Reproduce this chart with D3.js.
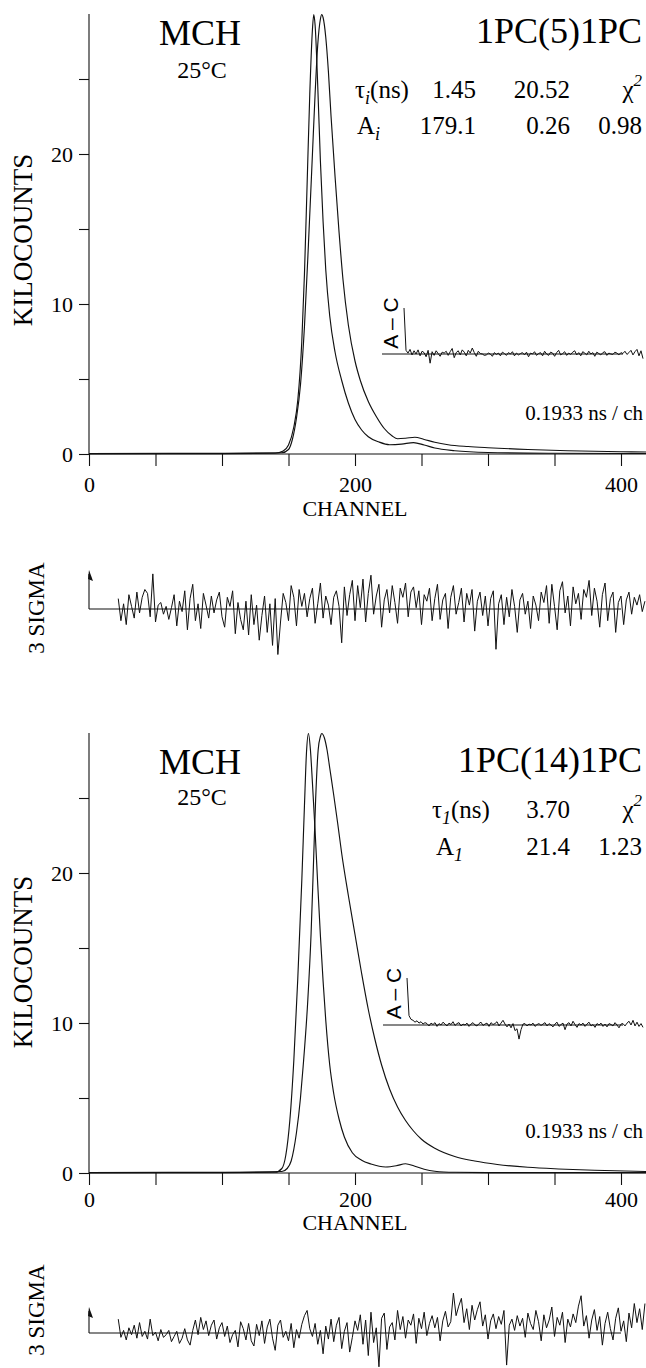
<!DOCTYPE html>
<html><head><meta charset="utf-8">
<script src="https://cdn.jsdelivr.net/npm/d3@7/dist/d3.min.js"></script>
<style>body{margin:0;background:#fff}svg{display:block}text{font-family:"Liberation Serif","Times New Roman",serif;fill:#000}text.sans{font-family:"Liberation Sans",Arial,sans-serif}</style>
</head><body>
<script>
// ---------- data ----------
const xTicks = [0,50,100,150,200,250,300,350,400];
const xTickLabels = [0,200,400];
const yTicks = [0,5,10,15,20,25];
const yTickLabels = [0,10,20];

// panel 1 : 1PC(5)1PC  (channel, kilocounts)
const lamp5Ch = [0,100,140,146,150,154,157,160,162,164,166,168,169,170,172,174,176,178,181,185,190,195,200,205,210,218,226,235,244,252,260,275,300,350,419];
const lamp5Kc = [0.02,0.03,0.05,0.2,0.6,1.8,3.6,7.5,12,18,24,28.3,29.3,28.6,24.5,19.5,15.5,12.3,9.2,6.8,4.9,3.4,2.3,1.6,1.15,0.8,0.62,0.66,0.76,0.6,0.4,0.22,0.1,0.05,0.03];
const dec5Ch = [0,100,145,150,153,156,159,162,165,168,170,172,174,175,176,178,180,182,185,188,191,195,200,204,210,216,222,228,232,238,245,252,260,270,285,300,330,360,400,419];
const dec5Kc = [0.03,0.05,0.08,0.3,1.0,2.4,4.6,8.5,14,20,24,27.3,29.0,29.3,29.1,27.8,25.5,22.5,18.5,14.8,11.6,8.6,6.2,4.9,3.5,2.5,1.7,1.2,1.02,1.05,1.12,0.97,0.78,0.62,0.5,0.42,0.3,0.22,0.15,0.13];

// panel 2 : 1PC(14)1PC
const lamp14Ch = [0,100,140,145,148,151,154,157,160,162,163.5,165,166.5,168,170,172,174,176,178,181,184,188,192,198,205,212,223,231,238,245,252,260,275,300,419];
const lamp14Kc = [0.02,0.03,0.05,0.3,1.2,3.5,7.5,13,19.5,24.5,28,29.3,28.2,26,22.8,19.2,15.8,12.8,10.2,7.2,5.3,3.6,2.4,1.35,0.85,0.6,0.4,0.48,0.62,0.45,0.25,0.12,0.05,0.03,0.02];
const dec14Ch = [0,100,145,149,152,156,159,161,164.5,167,168.7,170.4,172.3,174,175,177,179,181,184,187,190,195,200,205,210,215,220,226,232,238,244,250,260,275,290,307,330,353,380,419];
const dec14Kc = [0.03,0.05,0.1,0.3,0.8,2.7,5.0,7.1,11.5,16,20.4,24.9,28.2,29.1,29.3,29.0,28.2,27.0,25.2,23.3,21.3,18.5,15.9,13.3,10.9,8.9,7.2,5.6,4.4,3.5,2.8,2.25,1.65,1.1,0.8,0.57,0.38,0.27,0.18,0.1];

// weighted residuals (sigma units), channels 22..418 step 2
const resStartCh = 22, resStepCh = 2;
const res5 = [0.8,-0.9,0.4,-1.2,1.1,0.2,-0.7,1.3,-0.3,0.9,
 1.5,1.2,-0.6,2.7,-1.0,0.3,0.5,-0.4,0.2,-0.8,
 0.1,1.1,-1.3,0.6,-0.2,1.4,-1.6,0.8,1.9,-0.9,
 0.4,-1.5,1.2,0.3,-0.7,1.0,-0.3,0.7,1.3,-0.6,
 -1.4,0.9,0.2,1.4,-1.9,0.5,-0.8,-1.6,0.6,-2.0,
 1.1,-1.2,0.3,-2.4,-0.5,1.0,-1.8,0.4,-2.8,0.8,
 -3.5,-1.0,1.2,0.5,-0.9,1.8,0.9,-1.3,1.5,0.2,
 1.2,-0.6,0.8,1.6,-1.1,0.4,2.0,-0.7,1.0,0.3,
 -1.2,0.9,1.4,0.2,-2.6,1.7,-0.5,1.1,2.2,-0.9,
 1.8,0.1,2.3,-1.0,1.2,2.6,-0.4,1.0,1.9,-1.4,
 0.7,1.5,-0.3,1.8,0.5,-1.1,1.6,0.9,2.0,-0.6,
 1.3,1.7,0.1,1.4,-1.2,1.1,0.6,1.6,-0.9,0.8,
 1.9,-0.8,0.7,1.2,-1.5,0.9,1.8,-0.4,0.5,1.6,
 -1.0,1.2,0.3,1.5,-1.7,0.6,1.3,-0.5,1.0,-1.3,
 0.8,1.4,-3.1,0.4,1.1,-1.2,0.9,-0.6,1.5,0.2,
 -1.8,0.7,1.2,-0.4,0.6,-1.5,1.0,0.3,-0.9,1.3,
 0.5,1.8,-1.1,1.9,0.2,-1.6,1.4,2.1,-0.3,1.0,
 -1.3,1.7,0.4,1.2,-0.8,1.5,0.9,2.2,-0.5,1.6,
 0.6,-1.4,1.1,2.0,-0.9,0.8,1.3,-1.8,0.5,1.0,
 -1.2,0.7,1.3,-0.4,0.9,0.3,1.1,-0.2,0.6];
const res14 = [1.6,-0.5,0.3,-0.8,0.6,-0.2,0.9,-0.6,1.2,-0.4,
 0.2,-0.7,1.6,-0.3,0.1,-0.9,0.4,-0.5,-0.2,0.3,
 -1.0,-0.4,0.2,-1.2,-0.6,0.5,-0.8,-1.4,0.3,1.5,
 -0.2,1.8,0.4,1.4,-0.3,0.9,1.5,-0.7,0.6,1.2,
 -0.4,0.8,-1.1,-0.2,0.3,-1.6,1.3,0.5,-0.8,1.1,
 -0.9,-1.5,1.0,-0.3,1.4,-1.2,0.7,1.6,-0.6,-2.0,
 0.9,1.5,-0.5,0.2,-0.9,1.1,-1.7,0.4,-0.6,1.0,
 2.0,2.6,0.5,-0.4,1.1,-1.3,0.3,-2.4,0.8,-0.7,
 1.6,-1.0,0.9,1.8,-1.8,0.2,1.2,-2.2,-0.5,1.4,
 0.3,2.1,-1.3,1.5,-2.6,2.4,-1.1,0.6,-3.9,1.7,
 2.3,-1.9,0.7,1.2,-0.8,2.6,0.4,1.9,-0.6,1.5,
 0.9,2.2,-1.2,1.7,0.5,2.4,-0.3,1.1,2.0,0.6,
 1.8,-0.9,1.4,2.5,0.7,1.3,4.6,2.0,3.1,4.0,
 1.2,2.8,0.4,3.2,1.5,2.7,3.6,0.8,2.1,-0.7,
 1.4,2.2,0.5,1.9,1.0,2.6,-3.7,0.9,1.6,0.3,
 2.0,0.8,1.7,-0.5,2.3,1.1,0.4,2.6,1.3,-0.9,
 2.1,0.6,1.5,3.0,-0.4,1.8,0.9,2.4,-1.1,1.6,
 0.7,2.2,1.2,3.1,4.3,0.8,2.0,-0.6,1.5,2.7,
 0.3,1.9,-1.4,1.1,2.4,0.5,-0.8,1.7,2.9,0.2,
 1.4,-1.0,2.3,0.6,3.4,1.2,2.8,0.4,3.4];

// autocorrelation of residuals (A - C), lag index
const ac5 = [1.0,0.08,0.02,0.1,-0.02,0.07,0.0,0.09,-0.04,0.06,
 0.03,-0.06,0.08,-0.2,0.05,-0.03,0.07,0.01,-0.05,0.04,
 0.02,0.06,-0.03,0.05,0.12,-0.08,0.03,0.07,-0.02,0.09,
 0.04,-0.04,0.08,0.02,0.13,0.03,-0.05,0.06,0.01,0.0,
 -0.03,-0.02,0.02,0.0,-0.05,0.03,-0.01,0.02,-0.04,0.04,
 0.01,-0.03,0.03,0.0,0.05,-0.04,0.02,-0.02,0.01,0.03,
 -0.02,0.04,-0.06,0.02,0.0,0.05,-0.03,0.01,0.03,-0.04,
 0.06,0.0,-0.03,0.04,0.02,-0.05,0.03,0.08,-0.02,0.01,
 0.05,-0.03,0.02,-0.01,0.04,0.07,-0.02,0.03,-0.04,0.05,
 0.02,-0.02,0.06,0.0,0.03,-0.05,0.04,0.01,-0.02,0.03,
 0.05,-0.03,0.02,0.0,-0.01,0.04,0.02,-0.02,0.03,0.01,
 0.06,-0.01,0.03,0.08,-0.02,0.05,0.1,-0.04,0.07,-0.1];
const ac14 = [1.0,0.2,0.12,0.1,0.06,0.09,0.04,0.07,0.02,0.05,
 0.03,-0.02,0.04,0.01,0.05,-0.03,0.03,0.0,0.06,0.02,
 -0.02,0.04,0.01,0.07,-0.01,0.03,0.05,-0.02,0.02,0.0,
 0.04,-0.03,0.02,0.05,0.0,-0.02,0.03,0.06,-0.01,0.02,
 0.04,-0.03,0.05,0.01,0.03,0.07,-0.02,0.04,0.1,0.02,
 -0.04,0.02,-0.06,0.03,-0.12,-0.08,-0.3,-0.1,0.02,0.03,
 -0.02,0.02,0.0,0.04,-0.03,0.01,0.03,-0.01,0.02,0.05,
 -0.02,0.03,0.0,-0.04,0.02,0.06,-0.03,0.01,0.04,-0.1,
 0.02,0.05,-0.02,0.08,0.01,-0.05,0.03,0.0,0.04,-0.03,
 0.02,0.06,-0.02,0.01,-0.05,0.03,0.0,0.04,-0.03,0.02,
 -0.04,0.03,0.01,-0.02,0.05,0.0,-0.06,0.02,0.03,-0.02,
 0.04,0.08,0.0,0.1,-0.02,0.06,-0.03,0.03,-0.05];

const panels = [
  {title:"1PC(5)1PC", solvent:"MCH", temp:"25°C",
   lampCh:lamp5Ch, lampKc:lamp5Kc, decCh:dec5Ch, decKc:dec5Kc, res:res5, ac:ac5,
   tauSub:"i", tauVals:["1.45","20.52"], ampVals:["179.1","0.26"], chi:"0.98",
   y0:454, yTop:14, sigBase:609, sigTop:570, acBase:354, acTop:308, acX0:404, acLineX0:382,
   titleY:43, tauY:98, ampY:134, tempY:78, nsY:420, tickLabY:492, chanY:516, kiloY:240, sigLabY:608,
   tauX:355, ampX:357},
  {title:"1PC(14)1PC", solvent:"MCH", temp:"25°C",
   lampCh:lamp14Ch, lampKc:lamp14Kc, decCh:dec14Ch, decKc:dec14Kc, res:res14, ac:ac14,
   tauSub:"1", tauVals:["3.70"], ampVals:["21.4"], chi:"1.23",
   y0:1173, yTop:733, sigBase:1333, sigTop:1307, acBase:1025, acTop:978, acX0:407, acLineX0:383,
   titleY:772, tauY:818, ampY:855, tempY:805, nsY:1138, tickLabY:1207, chanY:1230, kiloY:962, sigLabY:1310,
   tauX:432, ampX:436}
];

// ---------- drawing ----------
const W = 646, H = 1368;
const svg = d3.select("body").append("svg").attr("width", W).attr("height", H);
const x = d3.scaleLinear().domain([0,400]).range([89,621]);
const chMax = 419;
const ink = "#111";

panels.forEach(p => {
  const g = svg.append("g");
  const y = d3.scaleLinear().domain([0,25]).range([p.y0, p.y0 - 25*15]);
  const yMax = y.invert(p.yTop);

  // axes lines
  g.append("line").attr("x1", x(0)).attr("x2", x(chMax)).attr("y1", y(0)).attr("y2", y(0)).attr("stroke", ink).attr("stroke-width",1.1);
  g.append("line").attr("x1", x(0)).attr("x2", x(0)).attr("y1", y(0)).attr("y2", y(yMax)).attr("stroke", ink).attr("stroke-width",1.1);

  const xa = d3.axisBottom(x).tickValues(xTicks).tickSize(12).tickPadding(10)
    .tickFormat(d => xTickLabels.includes(d) ? d : "");
  const xg = g.append("g").attr("transform", `translate(0,${y(0)})`).call(xa);
  xg.select(".domain").remove();
  xg.selectAll("line").attr("stroke", ink).attr("stroke-width",1.1);
  xg.selectAll("text").attr("font-size", 22).attr("fill","#000")
    .attr("dy", null).attr("y", p.tickLabY - y(0));

  const ya = d3.axisLeft(y).tickValues(yTicks).tickSize(10).tickPadding(6)
    .tickFormat(d => yTickLabels.includes(d) ? d : "");
  const yg = g.append("g").attr("transform", `translate(${x(0)},0)`).call(ya);
  yg.select(".domain").remove();
  yg.selectAll("line").attr("stroke", ink).attr("stroke-width",1.1);
  yg.selectAll("text").attr("font-size", 22).attr("fill","#000");

  // curves
  const line = d3.line().x(d => x(d[0])).y(d => y(d[1])).curve(d3.curveMonotoneX);
  [[p.lampCh,p.lampKc],[p.decCh,p.decKc]].forEach(([c,v]) => {
    g.append("path").datum(c.map((ch,i)=>[ch,v[i]])).attr("d", line)
      .attr("fill","none").attr("stroke", ink).attr("stroke-width",1.15);
  });

  // axis labels
  g.append("text").attr("x", x(200)).attr("y", p.chanY).attr("text-anchor","middle").attr("font-size",22).text("CHANNEL");
  g.append("text").attr("transform", `translate(32,${p.kiloY}) rotate(-90)`).attr("text-anchor","middle").attr("font-size",27).text("KILOCOUNTS");

  // annotations
  g.append("text").attr("x", 200).attr("y", p.titleY + 2).attr("text-anchor","middle").attr("font-size",36).text(p.solvent);
  g.append("text").attr("x", 202).attr("y", p.tempY).attr("text-anchor","middle").attr("font-size",24).text(p.temp);
  g.append("text").attr("x", 642).attr("y", p.titleY).attr("text-anchor","end").attr("font-size",36).text(p.title);

  const tau = g.append("text").attr("x", p.tauX).attr("y", p.tauY).attr("font-size",25);
  tau.append("tspan").text("τ");
  tau.append("tspan").attr("font-style","italic").attr("font-size",18).attr("dy",6).text(p.tauSub);
  tau.append("tspan").attr("dy",-6).text("(ns)");
  const valEnds = p.tauVals.length === 2 ? [476, 570] : [570];
  p.tauVals.forEach((t,i) => g.append("text").attr("x", valEnds[i]).attr("y", p.tauY).attr("text-anchor","end").attr("font-size",25).text(t));
  const chi = g.append("text").attr("x", 642).attr("y", p.tauY).attr("text-anchor","end").attr("font-size",25);
  chi.append("tspan").text("χ");
  chi.append("tspan").attr("font-style","italic").attr("font-size",17).attr("dy",-12).text("2");

  const amp = g.append("text").attr("x", p.ampX).attr("y", p.ampY).attr("font-size",25);
  amp.append("tspan").text("A");
  amp.append("tspan").attr("font-style","italic").attr("font-size",18).attr("dy",6).text(p.tauSub);
  p.ampVals.forEach((t,i) => g.append("text").attr("x", valEnds[i]).attr("y", p.ampY).attr("text-anchor","end").attr("font-size",25).text(t));
  g.append("text").attr("x", 642).attr("y", p.ampY).attr("text-anchor","end").attr("font-size",25).text(p.chi);

  g.append("text").attr("x", 643).attr("y", p.nsY).attr("text-anchor","end").attr("font-size",21).text("0.1933 ns / ch");

  // A - C inset
  const ax = d3.scaleLinear().domain([0, p.ac.length - 1]).range([p.acX0, 643]);
  const ay = d3.scaleLinear().domain([0, 1]).range([p.acBase, p.acTop]);
  g.append("line").attr("x1", p.acLineX0).attr("x2", x(400) + 2).attr("y1", ay(0)).attr("y2", ay(0)).attr("stroke", ink).attr("stroke-width",1.1);
  g.append("path").datum(p.ac).attr("d", d3.line().x((d,i)=>ax(i)).y(d=>ay(d)))
    .attr("fill","none").attr("stroke", ink).attr("stroke-width",1);
  g.append("text").attr("class","sans").attr("transform", `translate(${p.acX0 - 6},${(p.acBase + p.acTop)/2 - 8}) rotate(-90)`)
    .attr("text-anchor","middle").attr("font-size",21).text("A – C");

  // residuals (3 sigma)
  const sy = d3.scaleLinear().domain([0,3]).range([p.sigBase, p.sigTop]);
  g.append("line").attr("x1", x(0)).attr("x2", x(400)).attr("y1", sy(0)).attr("y2", sy(0)).attr("stroke", ink).attr("stroke-width",1.1);
  g.append("line").attr("x1", x(0)).attr("x2", x(0)).attr("y1", sy(0)).attr("y2", sy(3) + 4).attr("stroke", ink).attr("stroke-width",1.1);
  g.append("path").attr("d", `M${x(0)},${sy(3)} L${x(0)+4},${sy(3)+11} L${x(0)-1},${sy(3)+9} Z`).attr("fill", ink);
  g.append("path").datum(p.res).attr("d", d3.line().x((d,i)=>x(resStartCh + i*resStepCh)).y(d=>sy(d)))
    .attr("fill","none").attr("stroke", ink).attr("stroke-width",1);
  g.append("text").attr("transform", `translate(44,${p.sigLabY}) rotate(-90)`).attr("text-anchor","middle").attr("font-size",23).text("3 SIGMA");
});
</script>
</body></html>
